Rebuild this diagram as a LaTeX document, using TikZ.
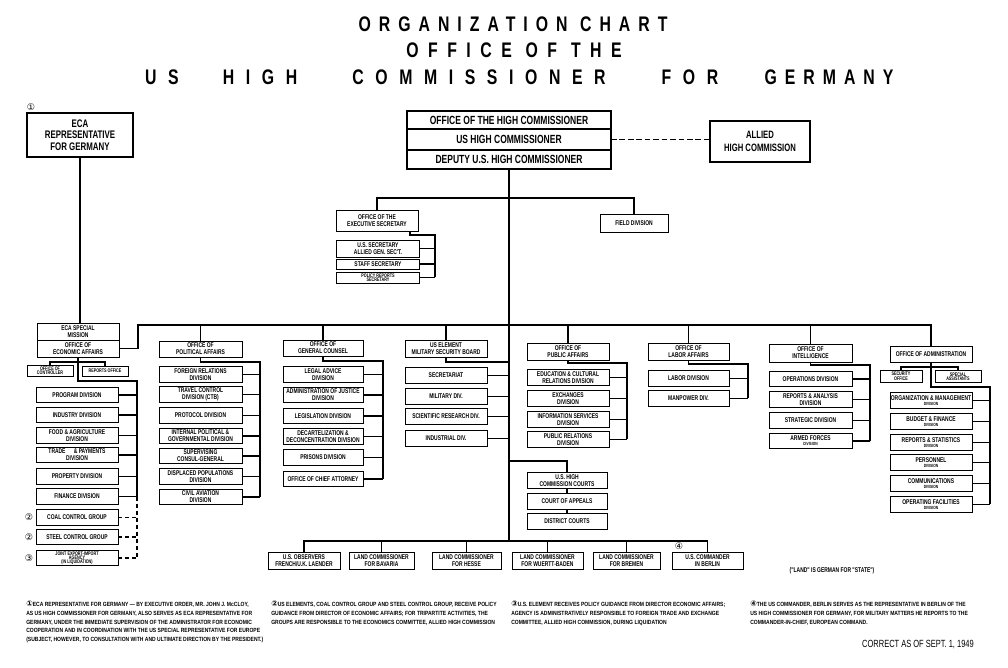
\documentclass[tikz,border=0pt]{standalone}
\usepackage{fontspec}
\usetikzlibrary{positioning}

\newfontfamily\chartfamily{Liberation Sans}[FakeStretch=0.72]
\newfontfamily\notefamily{Liberation Sans}[FakeStretch=0.83]
\newfontfamily\titleA{Liberation Sans}[FakeStretch=0.75,LetterSpace=38]
\newfontfamily\titleB{Liberation Sans}[FakeStretch=0.75,LetterSpace=45]
\newfontfamily\titleC{Liberation Sans}[FakeStretch=0.75,LetterSpace=55]
\newfontfamily\circfont{DejaVu Sans}

\newcommand\divfont{\chartfamily\bfseries\fontsize{4.9}{5}\selectfont}
\newcommand\topfont{\chartfamily\bfseries\fontsize{8.4}{8}\selectfont}
\newcommand\smallfont{\chartfamily\bfseries\fontsize{3.7}{3.8}\selectfont}
\newcommand\notefont{\notefamily\bfseries\fontsize{4.3}{6.2}\selectfont}
\newcommand\subdiv[1]{\\[-1.4pt]{\fontsize{3.2}{3.2}\selectfont #1}}
\newcommand\fnum[1]{{\circfont\fontsize{5.5}{6}\selectfont #1}}

\begin{document}
\begin{tikzpicture}[x=0.025cm, y=-0.025cm,
    chartbox/.style={draw, line width=0.6pt, inner sep=0.6pt, outer sep=0pt, align=center, font=\divfont, minimum width=2.05cm, minimum height=0.39cm},
    conn/.style={line width=1.3pt},
    circnum/.style={inner sep=0pt, font=\circfont\fontsize{6.5}{6.5}\selectfont}]

	\fill[white] (0,0) rectangle (1008,668);
	\useasboundingbox (0,0) rectangle (1008,668);

	% Title
	\node[font=\titleA\bfseries\fontsize{15}{15}\selectfont] (title1) at (513,24) {ORGANIZATION CHART};
	\node[font=\titleB\bfseries\fontsize{15}{15}\selectfont] (title2) at (514,50) {OFFICE OF THE};
	\node[font=\titleC\bfseries\fontsize{15}{15}\selectfont] (title3a) at (162,77.5) {US};
	\node[font=\titleC\bfseries\fontsize{15}{15}\selectfont] (title3b) at (260,77.5) {HIGH};
	\node[font=\titleC\bfseries\fontsize{15}{15}\selectfont] (title3c) at (479,77.5) {COMMISSIONER};
	\node[font=\titleC\bfseries\fontsize{15}{15}\selectfont] (title3d) at (690,77.5) {FOR};
	\node[font=\titleA\bfseries\fontsize{15}{15}\selectfont] (title3e) at (829,77.5) {GERMANY};

	% Draw the top boxes
	\node[chartbox, line width=0.9pt, font=\topfont, minimum width=5.1cm, minimum height=0.45cm] (hc1) at (509,120) {OFFICE OF THE HIGH COMMISSIONER};
	\node[chartbox, line width=0.9pt, font=\topfont, minimum width=5.1cm, minimum height=0.525cm, below=0pt of hc1] (hc2) {US HIGH COMMISSIONER};
	\node[chartbox, line width=0.9pt, font=\topfont, minimum width=5.1cm, minimum height=0.475cm, below=0pt of hc2] (hc3) {DEPUTY U.S. HIGH COMMISSIONER};
	\node[chartbox, line width=0.9pt, font=\chartfamily\bfseries\fontsize{7.8}{8}\selectfont, minimum width=2.65cm, minimum height=1.1cm] (ecarep) at (80,135) {ECA\\REPRESENTATIVE\\FOR GERMANY};
	\node[chartbox, line width=0.9pt, font=\chartfamily\bfseries\fontsize{7.6}{9}\selectfont, minimum width=2.5cm, minimum height=1.025cm] (allied) at (760,141.5) {ALLIED\\HIGH COMMISSION};
	\node[circnum] (n1) at (31,107) {①};

	% Executive secretary and field division
	\node[chartbox, minimum height=0.525cm] (exec) at (377,220.5) {OFFICE OF THE\\EXECUTIVE SECRETARY};
	\node[chartbox, minimum width=1.7cm, minimum height=0.45cm] (field) at (634,223) {FIELD DIVISION};
	\node[chartbox, minimum width=2.075cm, minimum height=0.425cm] (exsec1) at (378,248.5) {U.S. SECRETARY\\ALLIED GEN. SEC'T.};
	\node[chartbox, minimum width=2.075cm, minimum height=0.25cm] (exsec2) at (378,264) {STAFF SECRETARY};
	\node[chartbox, minimum width=2.075cm, minimum height=0.275cm, font=\smallfont] (exsec3) at (378,277.5) {POLICY REPORTS\\[-0.6pt]SECRETARY};

	% Economic affairs
	\node[chartbox, minimum height=0.425cm] (eca1) at (78,331.5) {ECA SPECIAL\\MISSION};
	\node[chartbox, minimum height=0.425cm, below=0pt of eca1] (eca2) {OFFICE OF\\ECONOMIC AFFAIRS};
	\node[chartbox, font=\smallfont, minimum width=1.15cm, minimum height=0.275cm] (ctrl) at (50,370.5) {OFFICE OF\\[-0.6pt]CONTROLLER};
	\node[chartbox, font=\smallfont, minimum width=1.15cm, minimum height=0.25cm] (rep) at (105,371) {REPORTS OFFICE};
	\node[chartbox] (eco1) at (77,395) {PROGRAM DIVISION};
	\node[chartbox] (eco2) at (77,415) {INDUSTRY DIVISION};
	\node[chartbox] (eco3) at (77,435.5) {FOOD \& AGRICULTURE\\DIVISION};
	\node[chartbox] (eco4) at (77,455) {TRADE \quad \& PAYMENTS\\DIVISION};
	\node[chartbox] (eco5) at (77,476.5) {PROPERTY DIVISION};
	\node[chartbox] (eco6) at (77,496.5) {FINANCE DIVISION};
	\node[chartbox] (eco7) at (77,517.5) {COAL CONTROL GROUP};
	\node[chartbox] (eco8) at (77,537) {STEEL CONTROL GROUP};
	\node[chartbox, font=\smallfont] (eco9) at (77,558) {JOINT EXPORT-IMPORT\\[-0.8pt]AGENCY\\[-0.8pt](IN LIQUIDATION)};
	\node[circnum] (n2a) at (29,517.5) {②};
	\node[circnum] (n2b) at (29,537) {②};
	\node[circnum] (n3) at (29,558) {③};

	% Political affairs
	\node[chartbox, minimum width=2.075cm, minimum height=0.4cm] (polhead) at (200.5,349) {OFFICE OF\\POLITICAL AFFAIRS};
	\node[chartbox, minimum width=2.075cm] (pol1) at (200.5,374.5) {FOREIGN RELATIONS\\DIVISION};
	\node[chartbox, minimum width=2.075cm] (pol2) at (200.5,394.5) {TRAVEL CONTROL\\DIVISION (CTB)};
	\node[chartbox, minimum width=2.075cm] (pol3) at (200.5,415.5) {PROTOCOL DIVISION};
	\node[chartbox, minimum width=2.075cm] (pol4) at (200.5,436) {INTERNAL POLITICAL \&\\GOVERNMENTAL DIVISION};
	\node[chartbox, minimum width=2.075cm] (pol5) at (200.5,456) {SUPERVISING\\CONSUL-GENERAL};
	\node[chartbox, minimum width=2.075cm] (pol6) at (200.5,476.5) {DISPLACED POPULATIONS\\DIVISION};
	\node[chartbox, minimum width=2.075cm] (pol7) at (200.5,497) {CIVIL AVIATION\\DIVISION};

	% General counsel
	\node[chartbox, minimum width=2cm, minimum height=0.4cm] (gchead) at (323,348) {OFFICE OF\\GENERAL COUNSEL};
	\node[chartbox, minimum width=2cm] (gc1) at (323,374.5) {LEGAL ADVICE\\DIVISION};
	\node[chartbox, minimum width=2cm] (gc2) at (323,395) {ADMINISTRATION OF JUSTICE\\DIVISION};
	\node[chartbox, minimum width=2cm] (gc3) at (323,416) {LEGISLATION DIVISION};
	\node[chartbox, minimum width=2cm] (gc4) at (323,436.5) {DECARTELIZATION \&\\DECONCENTRATION DIVISION};
	\node[chartbox, minimum width=2cm] (gc5) at (323,457.5) {PRISONS DIVISION};
	\node[chartbox, minimum width=2cm] (gc6) at (323,479) {OFFICE OF CHIEF ATTORNEY};

	% Military security board
	\node[chartbox, minimum height=0.425cm] (msbhead) at (446,348.5) {US ELEMENT\\MILITARY SECURITY BOARD};
	\node[chartbox] (msb1) at (446,375.5) {SECRETARIAT};
	\node[chartbox] (msb2) at (446,396.5) {MILITARY DIV.};
	\node[chartbox] (msb3) at (446,416.5) {SCIENTIFIC RESEARCH DIV.};
	\node[chartbox] (msb4) at (446,438.5) {INDUSTRIAL DIV.};

	% Public affairs and courts
	\node[chartbox, minimum height=0.425cm] (pubhead) at (568,351.5) {OFFICE OF\\PUBLIC AFFAIRS};
	\node[chartbox] (pub1) at (568,377.5) {EDUCATION \& CULTURAL\\RELATIONS DIVISION};
	\node[chartbox] (pub2) at (568,398.5) {EXCHANGES\\DIVISION};
	\node[chartbox] (pub3) at (568,419.5) {INFORMATION SERVICES\\DIVISION};
	\node[chartbox] (pub4) at (568,439.5) {PUBLIC RELATIONS\\DIVISION};
	\node[chartbox, minimum width=2cm] (crt1) at (567,480.5) {U.S. HIGH\\COMMISSION COURTS};
	\node[chartbox, minimum width=2cm] (crt2) at (567,501.5) {COURT OF APPEALS};
	\node[chartbox, minimum width=2cm] (crt3) at (567,521.5) {DISTRICT COURTS};

	% Labor affairs
	\node[chartbox, minimum width=2.025cm, minimum height=0.425cm] (labhead) at (688.5,351.5) {OFFICE OF\\LABOR AFFAIRS};
	\node[chartbox, minimum width=2.025cm] (lab1) at (688.5,378.5) {LABOR DIVISION};
	\node[chartbox, minimum width=2.025cm] (lab2) at (688.5,398.5) {MANPOWER DIV.};

	% Intelligence
	\node[chartbox, minimum width=2.075cm, minimum height=0.45cm] (inthead) at (810.5,353) {OFFICE OF\\INTELLIGENCE};
	\node[chartbox, minimum width=2.075cm] (int1) at (810.5,379) {OPERATIONS DIVISION};
	\node[chartbox, minimum width=2.075cm] (int2) at (810.5,399.5) {REPORTS \& ANALYSIS\\DIVISION};
	\node[chartbox, minimum width=2.075cm] (int3) at (810.5,420.5) {STRATEGIC DIVISION};
	\node[chartbox, minimum width=2.075cm] (int4) at (810.5,441) {ARMED FORCES\subdiv{DIVISION}};

	% Administration
	\node[chartbox, minimum height=0.4cm] (admhead) at (931,354) {OFFICE OF ADMINISTRATION};
	\node[chartbox, font=\smallfont, minimum width=1.05cm, minimum height=0.3cm] (adsec) at (901,376) {SECURITY\\[-0.6pt]OFFICE};
	\node[chartbox, font=\smallfont, minimum width=1.15cm, minimum height=0.3cm] (adspa) at (958,376.5) {SPECIAL\\[-0.6pt]ASSISTANTS};
	\node[chartbox] (adm1) at (931,400.5) {ORGANIZATION \& MANAGEMENT\subdiv{DIVISION}};
	\node[chartbox] (adm2) at (931,421.5) {BUDGET \& FINANCE\subdiv{DIVISION}};
	\node[chartbox] (adm3) at (931,442.5) {REPORTS \& STATISTICS\subdiv{DIVISION}};
	\node[chartbox] (adm4) at (931,462.5) {PERSONNEL\subdiv{DIVISION}};
	\node[chartbox] (adm5) at (931,483.5) {COMMUNICATIONS\subdiv{DIVISION}};
	\node[chartbox] (adm6) at (931,504.5) {OPERATING FACILITIES\subdiv{DIVISION}};

	% Land commissioners
	\node[chartbox, minimum width=1.8cm, minimum height=0.425cm] (land1) at (304,560.5) {U.S. OBSERVERS\\FRENCH/U.K. LAENDER};
	\node[chartbox, minimum width=1.625cm, minimum height=0.425cm] (land2) at (381.5,560.5) {LAND COMMISSIONER\\FOR BAVARIA};
	\node[chartbox, minimum width=1.725cm, minimum height=0.425cm] (land3) at (466.5,560.5) {LAND COMMISSIONER\\FOR HESSE};
	\node[chartbox, minimum width=1.775cm, minimum height=0.425cm] (land4) at (547.5,560.5) {LAND COMMISSIONER\\FOR WUERTT-BADEN};
	\node[chartbox, minimum width=1.675cm, minimum height=0.425cm] (land5) at (626.5,560.5) {LAND COMMISSIONER\\FOR BREMEN};
	\node[chartbox, minimum width=1.775cm, minimum height=0.425cm] (land6) at (707.5,560.5) {U.S. COMMANDER\\IN BERLIN};
	\node[circnum] (n4) at (679,546) {④};
	\node[font=\divfont] (landnote) at (832,571) {("LAND" IS GERMAN FOR "STATE")};

	% Connectors
	\coordinate (execbar) at (508,198);
	\coordinate (execbus) at (435,235);
	\coordinate (mainbus) at (508,325);
	\coordinate (landbus) at (508,541);
	\draw[conn] (hc3.south) -- (hc3.south |- landbus);
	\draw[conn, dash pattern=on 4pt off 2pt] (hc2.east) -- (hc2.east -| allied.west);
	\draw[conn] (ecarep.south) -- (ecarep.south |- eca1.north);
	\draw[conn] (exec.north) |- (execbar) -| (field.north);
	\draw[conn] ([xshift=-0.2cm]exec.south east) |- (execbus) -- (execbus |- exsec3.east)
		(exsec1.east) -- (exsec1.east -| execbus)
		(exsec2.east) -- (exsec2.east -| execbus)
		(exsec3.east) -- (exsec3.east -| execbus);
	\draw[conn] (eca2.east) -- ++(19,0) |- (mainbus) -| (admhead.north);
	\draw[conn] (polhead.north) -- (polhead.north |- mainbus)
		(gchead.north) -- (gchead.north |- mainbus)
		(msbhead.north) -- (msbhead.north |- mainbus)
		(pubhead.north) -- (pubhead.north |- mainbus)
		(labhead.north) -- (labhead.north |- mainbus)
		(inthead.north) -- (inthead.north |- mainbus);

	% Economic affairs connectors
	\coordinate (ctrlbar) at (78,362);
	\coordinate (ecobus) at (137,381);
	\draw[conn] (ctrl.north) |- (ctrlbar) -| (rep.north);
	\draw[conn] (eca2.south) |- (ecobus) -- (ecobus |- eco6.east)
		(eco1.east) -- (eco1.east -| ecobus)
		(eco2.east) -- (eco2.east -| ecobus)
		(eco3.east) -- (eco3.east -| ecobus)
		(eco4.east) -- (eco4.east -| ecobus)
		(eco5.east) -- (eco5.east -| ecobus)
		(eco6.east) -- (eco6.east -| ecobus);
	\draw[conn, dash pattern=on 3pt off 2pt] (ecobus |- eco6.east) -- (ecobus |- eco9.east)
		(eco7.east) -- (eco7.east -| ecobus)
		(eco8.east) -- (eco8.east -| ecobus)
		(eco9.east) -- (eco9.east -| ecobus);

	% Political affairs connectors
	\coordinate (polbus) at (260,362);
	\draw[conn] (polhead.south) |- (polbus) -- (polbus |- pol7.east)
		(pol1.east) -- (pol1.east -| polbus)
		(pol2.east) -- (pol2.east -| polbus)
		(pol3.east) -- (pol3.east -| polbus)
		(pol4.east) -- (pol4.east -| polbus)
		(pol5.east) -- (pol5.east -| polbus)
		(pol6.east) -- (pol6.east -| polbus)
		(pol7.east) -- (pol7.east -| polbus);

	% General counsel connectors
	\coordinate (gcbus) at (383,361);
	\draw[conn] (gchead.south) |- (gcbus) -- (gcbus |- gc6.east)
		(gc1.east) -- (gc1.east -| gcbus)
		(gc2.east) -- (gc2.east -| gcbus)
		(gc3.east) -- (gc3.east -| gcbus)
		(gc4.east) -- (gc4.east -| gcbus)
		(gc5.east) -- (gc5.east -| gcbus)
		(gc6.east) -- (gc6.east -| gcbus);

	% Military security board connectors
	\coordinate (msbbus) at (508,362);
	\draw[conn] (msbhead.south) |- (msbbus)
		(msb1.east) -- (msb1.east -| msbbus)
		(msb2.east) -- (msb2.east -| msbbus)
		(msb3.east) -- (msb3.east -| msbbus)
		(msb4.east) -- (msb4.east -| msbbus);

	% Public affairs and courts connectors
	\coordinate (pubbus) at (627,363);
	\coordinate (crtbar) at (508,461);
	\draw[conn] (pubhead.south) |- (pubbus) -- (pubbus |- pub4.east)
		(pub1.east) -- (pub1.east -| pubbus)
		(pub2.east) -- (pub2.east -| pubbus)
		(pub3.east) -- (pub3.east -| pubbus)
		(pub4.east) -- (pub4.east -| pubbus);
	\draw[conn] (crtbar) -| (crt1.north)
		(crt1.south) -- (crt2.north)
		(crt2.south) -- (crt3.north);

	% Labor and intelligence connectors
	\coordinate (labbus) at (748,364);
	\coordinate (intbus) at (870,365);
	\draw[conn] (labhead.south) |- (labbus) -- (labbus |- lab2.east)
		(lab1.east) -- (lab1.east -| labbus)
		(lab2.east) -- (lab2.east -| labbus);
	\draw[conn] (inthead.south) |- (intbus) -- (intbus |- int4.east)
		(int1.east) -- (int1.east -| intbus)
		(int2.east) -- (int2.east -| intbus)
		(int3.east) -- (int3.east -| intbus)
		(int4.east) -- (int4.east -| intbus);

	% Administration connectors
	\coordinate (adbar) at (931,367);
	\coordinate (admbus) at (990,387);
	\draw[conn] (adsec.north) |- (adbar) -| (adspa.north);
	\draw[conn] (admhead.south) |- (admbus) -- (admbus |- adm6.east)
		(adm1.east) -- (adm1.east -| admbus)
		(adm2.east) -- (adm2.east -| admbus)
		(adm3.east) -- (adm3.east -| admbus)
		(adm4.east) -- (adm4.east -| admbus)
		(adm5.east) -- (adm5.east -| admbus)
		(adm6.east) -- (adm6.east -| admbus);

	% Land commissioner connectors
	\draw[conn] (land1.north) |- (landbus) -| (land6.north)
		(land2.north) -- (land2.north |- landbus)
		(land3.north) -- (land3.north |- landbus)
		(land4.north) -- (land4.north |- landbus)
		(land5.north) -- (land5.north |- landbus);

	% Footnotes
	\node[anchor=north west, align=left, inner sep=0pt, font=\notefont] (fn1) at (26,601) {\fnum{①}ECA REPRESENTATIVE FOR GERMANY — BY EXECUTIVE ORDER, MR. JOHN J. McCLOY,\\AS US HIGH COMMISSIONER FOR GERMANY, ALSO SERVES AS ECA REPRESENTATIVE FOR\\GERMANY, UNDER THE IMMEDIATE SUPERVISION OF THE ADMINISTRATOR FOR ECONOMIC\\COOPERATION AND IN COORDINATION WITH THE US SPECIAL REPRESENTATIVE FOR EUROPE\\(SUBJECT, HOWEVER, TO CONSULTATION WITH AND ULTIMATE DIRECTION BY THE PRESIDENT.)};
	\node[anchor=north west, align=left, inner sep=0pt, font=\notefont] (fn2) at (271,601) {\fnum{②}US ELEMENTS, COAL CONTROL GROUP AND STEEL CONTROL GROUP, RECEIVE POLICY\\GUIDANCE FROM DIRECTOR OF ECONOMIC AFFAIRS; FOR TRIPARTITE ACTIVITIES, THE\\GROUPS ARE RESPONSIBLE TO THE ECONOMICS COMMITTEE, ALLIED HIGH COMMISSION};
	\node[anchor=north west, align=left, inner sep=0pt, font=\notefont] (fn3) at (511,601) {\fnum{③}U.S. ELEMENT RECEIVES POLICY GUIDANCE FROM DIRECTOR ECONOMIC AFFAIRS;\\AGENCY IS ADMINISTRATIVELY RESPONSIBLE TO FOREIGN TRADE AND EXCHANGE\\COMMITTEE, ALLIED HIGH COMMISSION, DURING LIQUIDATION};
	\node[anchor=north west, align=left, inner sep=0pt, font=\notefont] (fn4) at (750,601) {\fnum{④}THE US COMMANDER, BERLIN SERVES AS THE REPRESENTATIVE IN BERLIN OF THE\\US HIGH COMMISSIONER FOR GERMANY, FOR MILITARY MATTERS HE REPORTS TO THE\\COMMANDER-IN-CHIEF, EUROPEAN COMMAND.};
	\node[font=\chartfamily\fontsize{7.4}{7.4}\selectfont] (correct) at (918,645) {CORRECT AS OF SEPT. 1, 1949};

\end{tikzpicture}
\end{document}
